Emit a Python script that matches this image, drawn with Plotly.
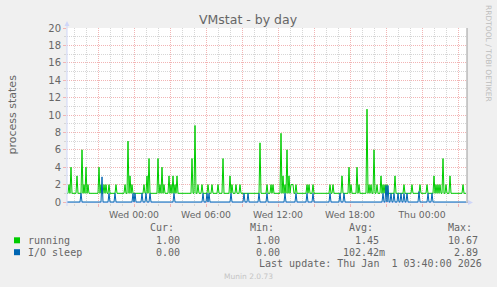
import pandas as pd
import plotly.graph_objects as go

# ---------------- data ----------------
title = "VMstat - by day"
y_title = "process states"
series_names = ["running", "I/O sleep"]
series_colors = ["#00CC00", "#0066B3"]

sample_start = "2025-12-30 18:25"
sample_end = "2026-01-01 03:40"
range_end = "2026-01-01 03:45"
step = "5min"

running_baseline = 1.0
running_spike_times = [
    "2025-12-30 18:35", "2025-12-30 18:45", "2025-12-30 19:15", "2025-12-30 19:40",
    "2025-12-30 19:50", "2025-12-30 20:00", "2025-12-30 20:10", "2025-12-30 21:05",
    "2025-12-30 21:15", "2025-12-30 21:30", "2025-12-30 21:40", "2025-12-30 21:55",
    "2025-12-30 22:30", "2025-12-30 23:15", "2025-12-30 23:30", "2025-12-30 23:40",
    "2025-12-30 23:50", "2025-12-31 00:50", "2025-12-31 01:05", "2025-12-31 01:15",
    "2025-12-31 02:00", "2025-12-31 02:10", "2025-12-31 02:20", "2025-12-31 02:30",
    "2025-12-31 02:55", "2025-12-31 03:05", "2025-12-31 03:15", "2025-12-31 03:25",
    "2025-12-31 03:35", "2025-12-31 04:50", "2025-12-31 05:05", "2025-12-31 05:20",
    "2025-12-31 05:40", "2025-12-31 06:10", "2025-12-31 06:30", "2025-12-31 07:00",
    "2025-12-31 07:25", "2025-12-31 08:00", "2025-12-31 08:10", "2025-12-31 08:30",
    "2025-12-31 08:50", "2025-12-31 10:30", "2025-12-31 11:05", "2025-12-31 11:25",
    "2025-12-31 11:35", "2025-12-31 12:15", "2025-12-31 12:25", "2025-12-31 12:35",
    "2025-12-31 12:45", "2025-12-31 12:55", "2025-12-31 13:05", "2025-12-31 13:10",
    "2025-12-31 13:15", "2025-12-31 13:30", "2025-12-31 14:25", "2025-12-31 14:35",
    "2025-12-31 14:55", "2025-12-31 16:20", "2025-12-31 16:35", "2025-12-31 17:20",
    "2025-12-31 17:55", "2025-12-31 18:05", "2025-12-31 18:35", "2025-12-31 18:45",
    "2025-12-31 19:25", "2025-12-31 19:35", "2025-12-31 19:45", "2025-12-31 20:00",
    "2025-12-31 20:15", "2025-12-31 20:35", "2025-12-31 20:45", "2025-12-31 20:55",
    "2025-12-31 21:05", "2025-12-31 21:45", "2025-12-31 22:30", "2025-12-31 23:10",
    "2025-12-31 23:50", "2026-01-01 00:25", "2026-01-01 01:00", "2026-01-01 01:10",
    "2026-01-01 01:20", "2026-01-01 01:30", "2026-01-01 01:45", "2026-01-01 02:00",
    "2026-01-01 02:20", "2026-01-01 03:25",
]
running_spike_values = [
    2, 4, 3, 6,
    2, 4, 2, 4,
    2, 2, 2, 2,
    2, 2, 7, 3,
    2, 2, 3, 5,
    5, 2, 4, 2,
    3, 2, 3, 2,
    3, 5, 8.8, 2,
    2, 2, 2, 2,
    5, 3, 2, 2,
    2, 6.8, 2, 2,
    2, 7.9, 3, 2,
    6, 3, 2, 2,
    2, 2, 2, 2,
    2, 2, 2, 3,
    4, 2, 4, 2,
    10.67, 2, 2, 6,
    2, 3, 2, 2,
    2, 3, 2, 2,
    2, 2, 3, 2,
    2, 2, 5, 2,
    3, 2,
]

io_baseline = 0.0
io_spike_times = [
    "2025-12-30 19:35", "2025-12-30 21:20", "2025-12-30 21:55", "2025-12-30 22:25",
    "2025-12-30 23:55", "2025-12-31 00:05", "2025-12-31 00:40", "2025-12-31 01:00",
    "2025-12-31 01:20", "2025-12-31 03:20", "2025-12-31 05:45", "2025-12-31 06:05",
    "2025-12-31 06:15", "2025-12-31 08:05", "2025-12-31 09:10", "2025-12-31 09:30",
    "2025-12-31 10:25", "2025-12-31 11:05", "2025-12-31 12:35", "2025-12-31 13:30",
    "2025-12-31 14:25", "2025-12-31 14:55", "2025-12-31 16:20", "2025-12-31 17:10",
    "2025-12-31 17:30", "2025-12-31 20:45", "2025-12-31 21:00", "2025-12-31 21:10",
    "2025-12-31 21:25", "2025-12-31 21:40", "2025-12-31 22:00", "2025-12-31 22:15",
    "2025-12-31 22:30", "2025-12-31 22:45",
    "2025-12-31 23:45", "2026-01-01 00:30", "2026-01-01 00:50",
]
io_spike_values = [
    1, 2.89, 1, 1,
    1, 1, 1, 1,
    1, 1, 1, 1,
    1, 1, 1, 1,
    1, 1, 1, 1,
    1, 1, 1, 1,
    1, 1, 1.9, 1.9,
    1, 1, 1, 1,
    1, 1,
    1.2, 1, 1,
]

y_tick_values = list(range(0, 21, 2))
x_tick_times = [
    "2025-12-30 21:00", "2025-12-31 00:00", "2025-12-31 03:00", "2025-12-31 06:00",
    "2025-12-31 09:00", "2025-12-31 12:00", "2025-12-31 15:00", "2025-12-31 18:00",
    "2025-12-31 21:00", "2026-01-01 00:00", "2026-01-01 03:00",
]
x_tick_labels = ["", "Wed 00:00", "", "Wed 06:00", "", "Wed 12:00", "",
                 "Wed 18:00", "", "Thu 00:00", ""]

legend_headers = ["Cur:", "Min:", "Avg:", "Max:"]
running_stats = ["1.00", "1.00", "1.45", "10.67"]
io_stats = ["0.00", "0.00", "102.42m", "2.89"]
last_update = "Last update: Thu Jan  1 03:40:00 2026"
footer = "Munin 2.0.73"
watermark = "RRDTOOL / TOBI OETIKER"

# ---------------- build series ----------------
times = pd.date_range(sample_start, sample_end, freq=step)
running = pd.Series(running_baseline, index=times)
running[pd.to_datetime(running_spike_times)] = running_spike_values
io = pd.Series(io_baseline, index=times)
io[pd.to_datetime(io_spike_times)] = io_spike_values

# ---------------- layout geometry ----------------
W, H = 497, 287
ML, MT, PW, PH = 67, 28, 400, 175
MR = W - ML - PW
MB = H - MT - PH
PLOT_BOTTOM = MT + PH


def px(x):
    return (x - ML) / PW


def py(y):
    return (PLOT_BOTTOM - y) / PH


FONT = "DejaVu Sans"
MONO = "DejaVu Sans Mono"
TXT = "#666666"
AXIS = "#CFD6F8"
MGRID = "#F2B4B4"
GRID = "#D6D6D6"

fig = go.Figure()
for name, s, col in [(series_names[0], running, series_colors[0]),
                     (series_names[1], io, series_colors[1])]:
    fig.add_trace(go.Scatter(x=s.index, y=s.values, mode="lines", name=name,
                             line=dict(color=col, width=1), hoverinfo="skip",
                             showlegend=False))

fig.update_layout(
    width=W, height=H, margin=dict(l=ML, r=MR, t=MT, b=MB, pad=0),
    paper_bgcolor="#F0F0F0", plot_bgcolor="#FFFFFF",
    font=dict(family=FONT, size=9.3, color=TXT),
    showlegend=False,
)
fig.update_xaxes(
    type="date", range=[sample_start, range_end],
    tickmode="array", tickvals=x_tick_times, ticktext=x_tick_labels,
    showgrid=True, gridcolor=MGRID, griddash="1px,1px", gridwidth=1,
    ticks="outside", ticklen=3, tickcolor=MGRID, tickwidth=1,
    tickfont=dict(family=FONT, size=9.3, color=TXT),
    showline=False, zeroline=False,
    minor=dict(dtick=3600000, tick0="2025-12-31 00:00", showgrid=True,
               gridcolor=GRID, griddash="1px,1px", gridwidth=1,
               ticks="outside", ticklen=2, tickcolor=GRID),
)
fig.update_yaxes(
    range=[-0.115, 20], tickmode="array", tickvals=y_tick_values,
    ticktext=[str(v) for v in y_tick_values],
    showgrid=True, gridcolor=MGRID, griddash="1px,1px", gridwidth=1,
    ticks="outside", ticklen=3, tickcolor=MGRID, tickwidth=1,
    tickfont=dict(family=FONT, size=10, color=TXT),
    showline=False, zeroline=False,
    minor=dict(dtick=1, tick0=0, showgrid=True, gridcolor=GRID,
               griddash="1px,1px", gridwidth=1, ticks="outside", ticklen=2,
               tickcolor=GRID),
)

shapes = []
# x axis line + arrow
y0 = py(202.5)
shapes.append(dict(type="line", xref="paper", yref="paper", x0=px(64), x1=px(469),
                   y0=y0, y1=y0, line=dict(color=AXIS, width=1), layer="below"))
shapes.append(dict(type="path", xref="paper", yref="paper",
                   path=f"M {px(468)} {py(200)} L {px(473)} {y0} L {px(468)} {py(205)} Z",
                   fillcolor=AXIS, line=dict(color=AXIS, width=0), layer="above"))
# y axis line + arrow
shapes.append(dict(type="line", xref="paper", yref="paper", x0=px(67), x1=px(67),
                   y0=py(206), y1=py(25), line=dict(color=AXIS, width=1), layer="above"))
shapes.append(dict(type="path", xref="paper", yref="paper",
                   path=f"M {px(64.5)} {py(26)} L {px(67)} {py(21)} L {px(69.5)} {py(26)} Z",
                   fillcolor=AXIS, line=dict(color=AXIS, width=0), layer="above"))
# right frame line
shapes.append(dict(type="line", xref="paper", yref="paper", x0=px(467), x1=px(467),
                   y0=py(203), y1=py(28), line=dict(color="#9A9A9A", width=1), layer="above"))
# legend colour squares
for col, yc in [(series_colors[0], 240.3), (series_colors[1], 252.2)]:
    shapes.append(dict(type="rect", xref="paper", yref="paper",
                       x0=px(14), x1=px(20), y0=py(yc - 3), y1=py(yc + 3),
                       fillcolor=col, line=dict(width=0), layer="above"))
fig.update_layout(shapes=shapes)

NB = "\u00a0"


def ann(text, x, y, size=10, family=MONO, color=TXT, xanchor="left", angle=0):
    fig.add_annotation(text=text.replace(" ", NB), x=px(x), y=py(y), xref="paper",
                       yref="paper", showarrow=False, xanchor=xanchor,
                       yanchor="middle", textangle=angle, borderpad=0,
                       font=dict(family=family, size=size, color=color))


def fmt(v):
    s = v if v[-1].isalpha() else v + " "
    return s.rjust(7)


ann(title, 248.5, 19.5, size=12.5, family=FONT, xanchor="center")
ann(y_title, 11.5, 114, size=11, family=FONT, xanchor="center", angle=-90)
ann(watermark, 489, 53, size=7.5, family=FONT, color="#BDBDBD",
    xanchor="center", angle=90)

cols = [142.7, 243, 341.7, 441]
for h, c in zip(legend_headers, cols):
    ann(h, c + 6, 227.5)
ann(series_names[0], 26.7, 240.2)
ann(series_names[1], 26.7, 252)
for v, c in zip(running_stats, cols):
    ann(fmt(v), c, 240.2)
for v, c in zip(io_stats, cols):
    ann(fmt(v), c, 252)
ann(last_update, 483, 263.5, xanchor="right")
ann(footer, 248.5, 276.5, size=7.5, family=FONT, color="#C4C4C4", xanchor="center")

fig.write_html("out.html")
